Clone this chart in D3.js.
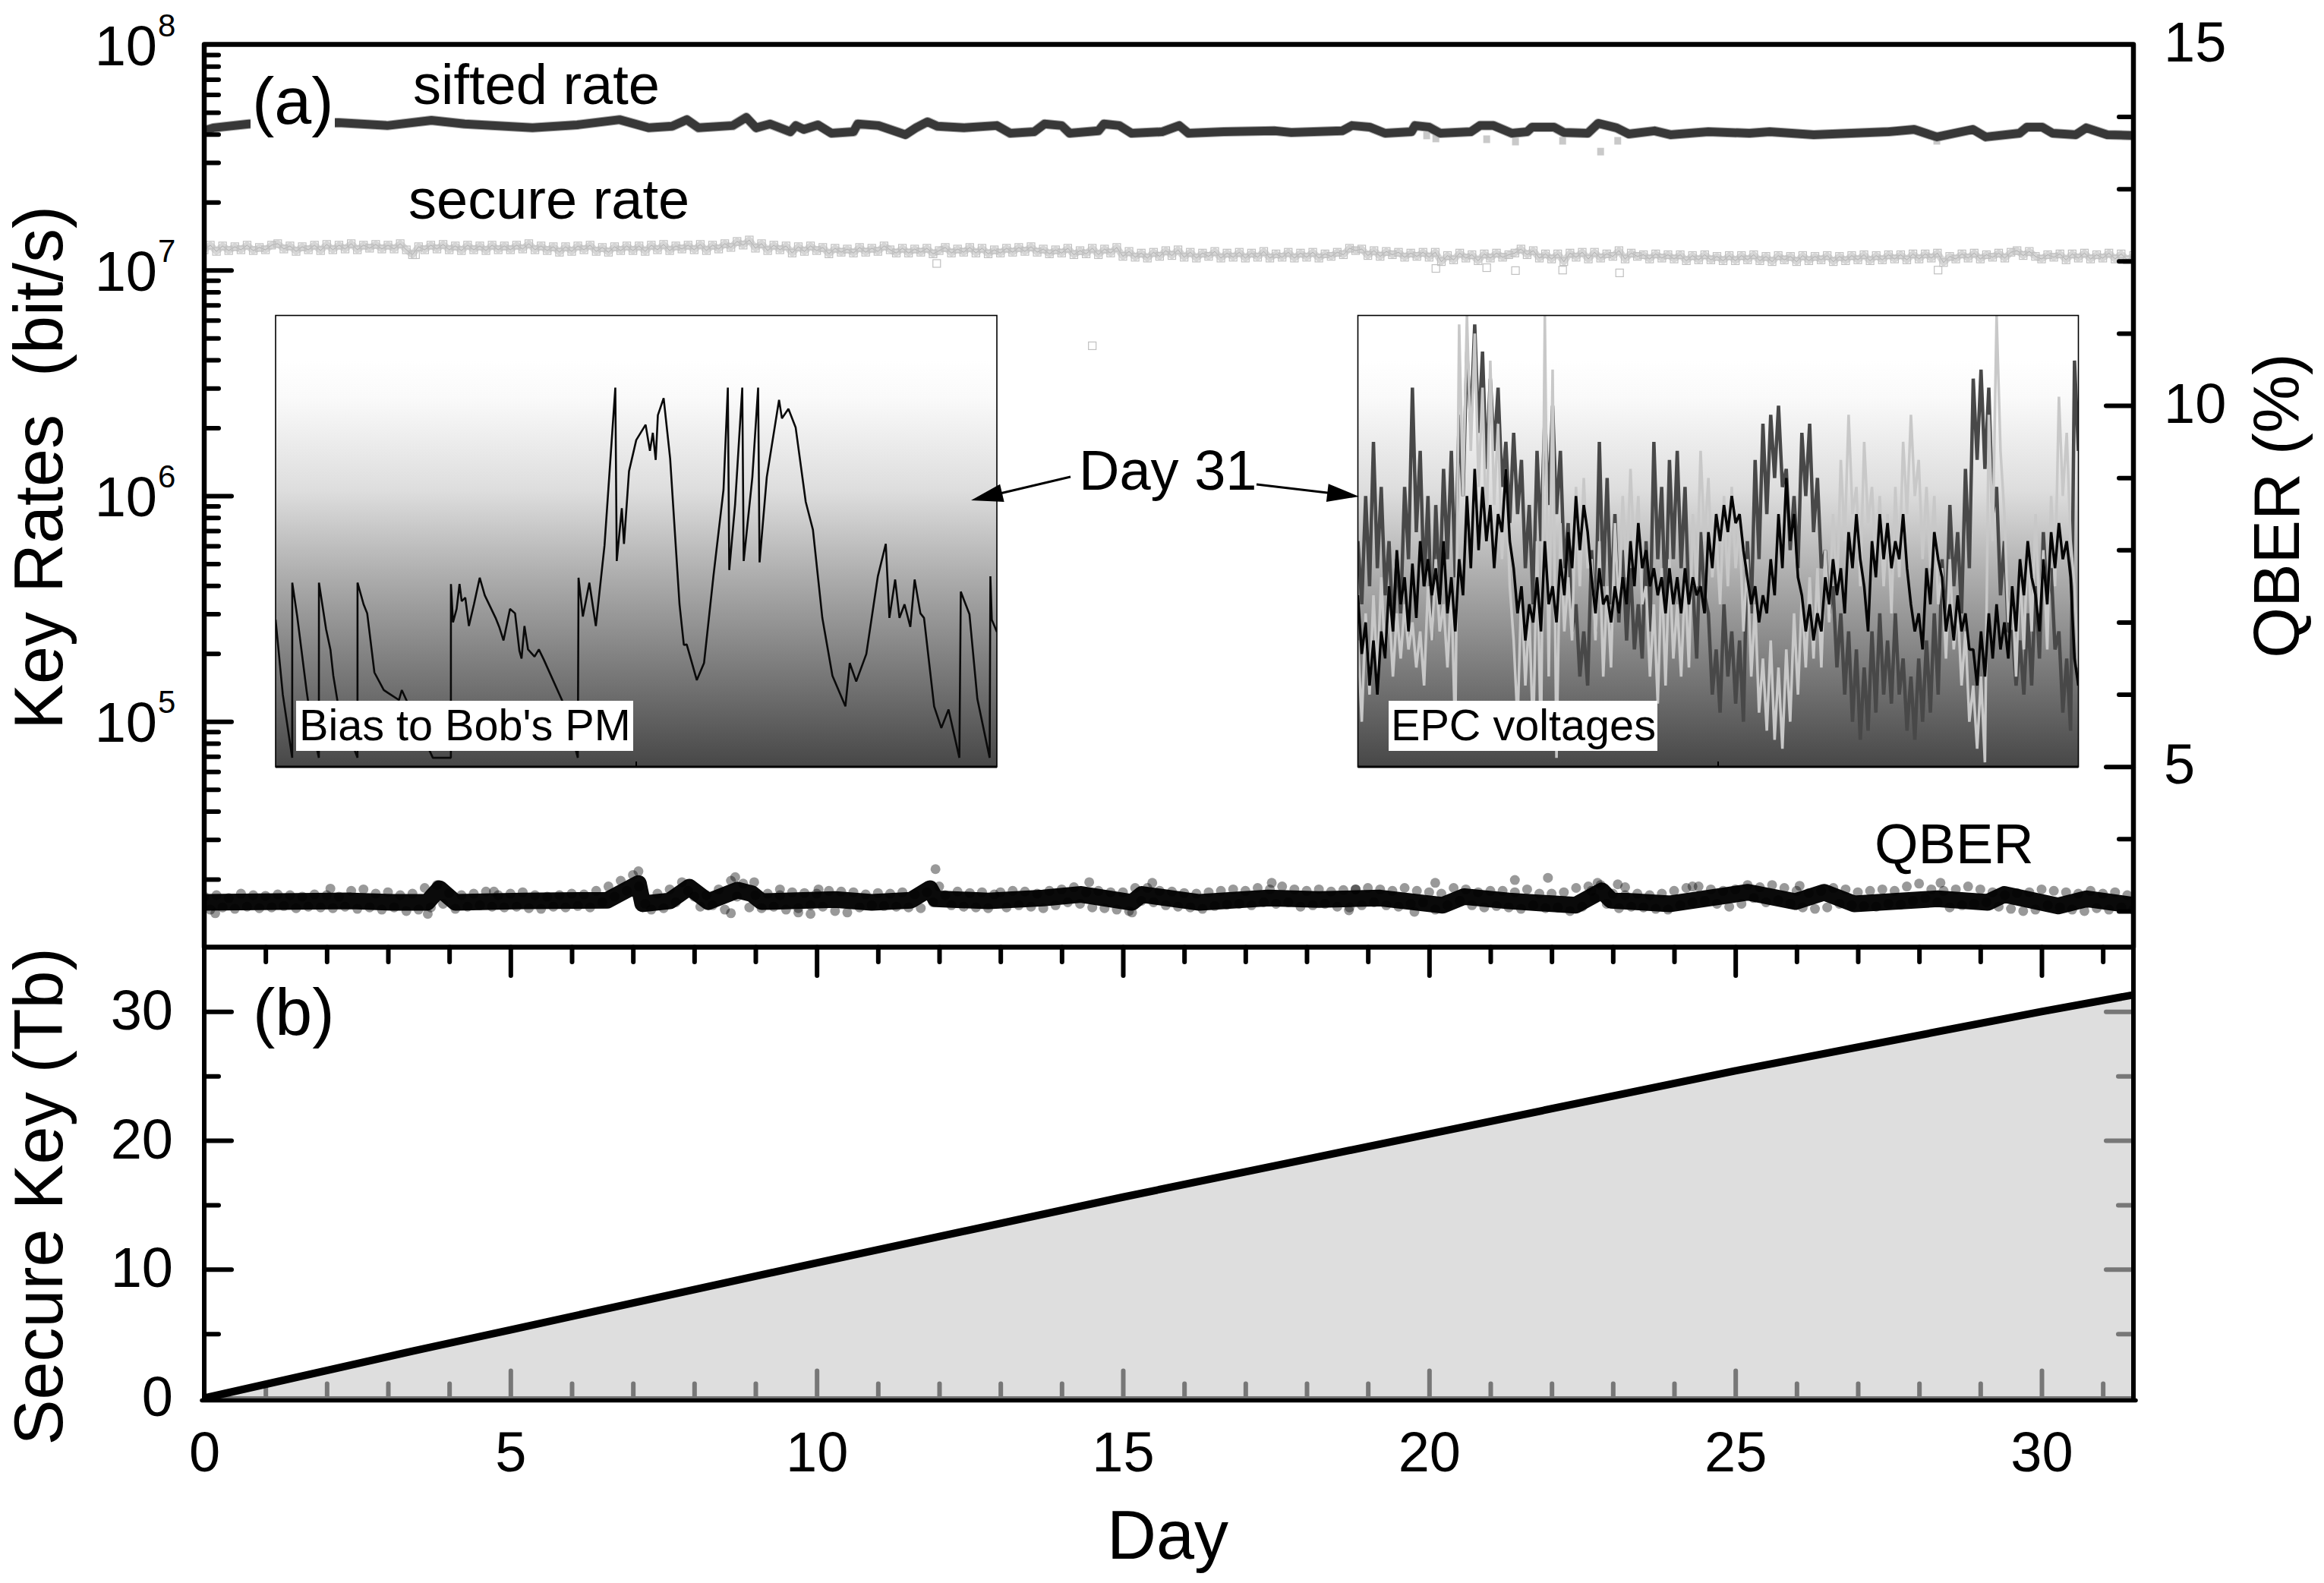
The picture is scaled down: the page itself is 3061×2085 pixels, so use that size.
<!DOCTYPE html>
<html><head><meta charset="utf-8">
<script src="https://cdn.jsdelivr.net/npm/d3@7/dist/d3.min.js"></script>
<style>html,body{margin:0;background:#fff}svg{display:block;font-family:"Liberation Sans",Arial,sans-serif}</style>
</head><body><svg id="c" width="3061" height="2085"></svg>
<script>
// ---- data ----
const siftedDay=[0,.15,.73,2.19,2.99,3.71,4.25,5.36,6.09,6.78,7.26,7.64,7.88,8.07,8.63,8.85,9.01,9.24,9.57,9.66,9.79,10.02,10.24,10.6,10.67,11.01,11.45,11.62,11.81,11.97,12.4,12.94,13.16,13.55,13.72,14,14.13,14.6,14.69,14.94,15.14,15.64,15.92,16.07,16.65,17.48,17.75,18.58,18.74,19.03,19.28,19.71,19.77,20,20.18,20.68,20.83,21.05,21.35,21.6,21.68,22.04,22.2,22.59,22.76,23.06,23.26,23.68,23.94,24.56,25.23,25.56,26.28,27.5,27.92,28.29,28.88,29.09,29.64,29.76,30.01,30.18,30.56,30.73,31.07,31.5];
const siftedMbps=[41.4,42.7,44.4,45,43.7,46.1,44.4,42.7,44,46.4,42.7,43.4,46.4,42.7,43.7,47.5,42.7,44.4,41,43.7,42,44,40.4,41,44.4,43.7,39.8,42.7,45.4,43.4,42.7,43.7,40.4,41,44.4,43.7,40.4,41.4,44.4,43.7,40.4,41,43.7,40.4,41,41.4,40.7,41.4,43.7,43,40.4,41,43.7,43,40.4,41,43.7,43.7,40.4,41,43,43,40.7,40.4,44.7,42.7,40.1,41.4,39.8,41,40.4,41,39.8,41,42,38.9,42,38.9,40.4,43,43,40.4,39.8,42.7,39.8,39.5];
const siftedOutDay=[19.96,20.11,20.94,21.41,22.18,22.8,23.08,28.29];
const siftedOutMbps=[39.5,38.3,38,37.1,37.4,33.5,37.4,37.4];
const secureStep=0.1;
const secureMbps=[
12.3,12.9,12.1,12.8,12.2,12.7,12.3,12.9,12.2,12.6,
12.3,12.9,13.1,12.4,12.8,12.1,12.7,12.3,12.9,12.2,
13.0,12.3,12.9,12.4,13.1,12.3,12.9,12.5,13.0,12.4,
12.9,12.4,13.1,12.3,11.7,12.7,12.3,12.9,12.4,13.0,
12.3,12.8,12.2,12.9,12.3,12.8,12.2,12.9,12.3,12.8,
12.3,12.9,12.4,13.1,12.3,12.8,12.2,12.7,12.0,12.7,
12.1,12.8,12.3,12.9,12.1,12.6,12.0,12.7,12.2,12.8,
12.2,12.8,12.1,12.9,12.3,13.0,12.2,12.8,12.4,12.9,
12.3,13.0,12.2,12.9,12.4,13.1,12.6,13.4,12.9,13.6,
12.5,13.1,12.2,12.9,12.3,12.8,11.9,12.7,12.1,12.8,
12.2,12.6,11.8,12.5,12.0,12.4,11.9,12.6,12.0,12.5,
12.1,12.8,12.3,11.9,12.5,11.9,12.4,12.0,12.5,11.8,
12.2,12.6,11.9,12.4,12.0,12.6,11.9,12.5,11.8,12.3,
11.9,12.5,12.0,12.6,12.1,12.7,12.0,12.4,11.8,12.3,
11.9,12.5,11.7,12.2,11.8,12.5,11.7,12.4,11.9,12.6,
11.5,12.1,11.4,11.9,11.3,12.0,11.5,12.2,11.6,12.3,
11.4,12.0,11.3,11.9,11.5,12.1,11.3,11.9,11.4,12.0,
11.3,11.9,11.4,12.1,11.3,11.8,11.4,12.0,11.3,11.9,
11.4,12.0,11.3,11.8,11.5,12.0,11.7,12.5,12.2,12.4,
11.6,12.2,11.5,12.1,11.7,12.0,11.4,11.9,11.5,12.0,
11.4,12.0,10.9,11.6,11.1,11.9,11.3,11.7,11.0,11.8,
11.3,11.9,11.4,11.7,11.9,12.4,11.7,12.2,11.3,11.8,
11.2,11.8,10.9,11.9,11.4,12.0,11.2,12.0,11.3,11.8,
11.5,12.2,11.2,11.9,11.5,11.7,11.2,11.8,11.3,11.7,
11.2,11.7,11.0,11.6,11.1,11.7,11.1,11.5,11.0,11.6,
11.0,11.6,11.1,11.7,11.0,11.5,10.9,11.6,11.1,11.5,
10.9,11.6,11.0,11.5,11.1,11.6,10.9,11.5,11.0,11.6,
11.1,11.7,11.0,11.6,11.1,11.7,11.2,11.7,11.1,11.8,
11.2,11.8,11.3,11.9,10.8,11.5,11.2,11.8,11.3,11.9,
11.2,11.7,11.4,11.9,11.3,12.0,12.2,11.6,12.1,11.5,
11.2,11.7,11.4,11.8,11.1,11.8,11.3,11.9,11.2,11.7,
11.3,11.9,11.2,11.8,11.1,11.6];
const secureOutDay=[20.11,20.94,21.41,22.18,23.11,11.96,28.31,3.45,22.82,14.5];
const secureOutMbps=[10.17,10.25,9.95,10.0,9.72,10.7,10.0,11.7,3.13,4.62];
const qberMeanDay=[0,1.2,2.4,3.1,3.64,3.84,4.1,5.2,6.58,7.09,7.16,7.6,7.92,8.23,8.71,8.94,9.1,10.3,10.9,11.54,11.85,11.94,12.8,13.7,14.32,15.15,15.31,16.25,17.37,18.2,19.2,20.22,20.57,21.3,22.39,22.82,22.97,23.94,25.21,25.98,26.45,26.94,28.3,29.12,29.39,30.27,30.74,31.5];
const qberMean=[3.12,3.13,3.14,3.12,3.12,3.31,3.12,3.14,3.15,3.38,3.10,3.14,3.33,3.13,3.29,3.24,3.13,3.16,3.12,3.15,3.31,3.17,3.14,3.18,3.23,3.12,3.23,3.12,3.18,3.16,3.18,3.08,3.20,3.14,3.08,3.28,3.15,3.10,3.26,3.13,3.26,3.10,3.17,3.12,3.23,3.07,3.17,3.08];
const qberStep=0.1;
const qberPct=[
3.20,3.02,3.22,3.05,3.18,3.03,3.24,3.06,3.22,3.04,
3.21,3.05,3.23,3.07,3.22,3.04,3.20,3.06,3.23,3.05,
3.22,3.04,3.20,3.06,3.28,3.03,3.30,3.05,3.24,3.02,
3.26,3.05,3.22,3.00,3.24,3.02,3.32,3.05,3.36,3.10,
3.25,3.03,3.22,3.06,3.24,3.08,3.27,3.06,3.22,3.05,
3.24,3.06,3.26,3.04,3.22,3.03,3.20,3.06,3.22,3.05,
3.24,3.07,3.23,3.05,3.28,3.12,3.34,3.20,3.42,3.28,
3.50,3.34,3.10,3.02,3.24,3.04,3.30,3.12,3.40,3.28,
3.20,3.06,3.22,3.08,3.30,3.02,3.42,3.20,3.38,3.05,
3.22,3.04,3.24,3.06,3.22,3.02,3.26,3.04,3.25,3.08,
3.24,3.06,3.28,3.00,3.27,2.98,3.26,3.05,3.23,3.08,
3.25,3.07,3.24,3.06,3.26,3.05,3.23,3.04,3.26,3.12,
3.34,3.22,3.08,3.27,3.06,3.25,3.05,3.26,3.04,3.23,
3.26,3.05,3.28,3.08,3.27,3.06,3.24,3.04,3.28,3.08,
3.30,3.12,3.33,3.10,3.26,3.05,3.28,3.04,3.26,3.02,
3.26,3.00,3.32,3.14,3.32,3.12,3.28,3.08,3.27,3.06,
3.25,3.05,3.24,3.03,3.26,3.07,3.28,3.09,3.30,3.10,
3.28,3.08,3.32,3.12,3.30,3.10,3.34,3.12,3.30,3.06,
3.28,3.08,3.30,3.10,3.27,3.06,3.29,3.05,3.30,3.08,
3.32,3.12,3.30,3.08,3.28,3.06,3.32,3.10,3.28,3.12,
3.26,3.02,3.24,3.08,3.32,3.14,3.30,3.08,3.26,3.05,
3.28,3.07,3.28,3.05,3.26,3.03,3.30,3.08,3.24,3.04,
3.24,3.05,3.26,3.00,3.32,3.06,3.34,3.18,3.36,3.10,
3.24,3.04,3.22,3.06,3.24,3.05,3.22,3.03,3.24,3.02,
3.28,3.08,3.32,3.12,3.34,3.14,3.30,3.10,3.28,3.06,
3.30,3.10,3.36,3.18,3.33,3.12,3.36,3.15,3.32,3.10,
3.28,3.05,3.25,3.03,3.28,3.05,3.32,3.10,3.30,3.08,
3.26,3.07,3.28,3.06,3.30,3.10,3.28,3.09,3.34,3.14,
3.38,3.18,3.30,3.12,3.28,3.05,3.30,3.08,3.34,3.10,
3.30,3.12,3.26,3.06,3.22,3.03,3.25,3.00,3.26,3.02,
3.30,3.08,3.28,3.05,3.26,3.02,3.24,3.00,3.28,3.04,
3.24,3.02,3.26,3.05,3.22,3.02];
const qberOutDay=[7.09,8.67,8.98,4.73,2.06,11.94,14.45,15.48,17.43,10.03,9.4,.18,3.65,8.6,9.7,9.9,15.15,18.8,19.76,20.1,21.4,21.94,22.75,23.08,23.2,22.65,18.69,28.35,24.3,26.05];
const qberOut=[3.55,3.47,3.40,3.27,3.31,3.58,3.40,3.39,3.39,3.30,3.30,2.97,2.96,2.97,2.98,2.96,2.98,3.30,2.99,3.39,3.43,3.46,3.39,3.37,3.33,3.28,3.01,3.39,3.34,3.35];
const keyDay=[0,3.4,5,10,15,20,25,30,31.5];
const keyTb=[0,3.65,5.3,10.5,15.6,20.5,25.4,30.0,31.3];
// inset traces: positions in percent of the unlabelled inset frame
const biasT=[0,1,2.3,2.31,3,4.3,5,6,6.01,7,7.6,8,8.7,11.35,11.36,12.2,12.7,13.7,15,17.1,17.5,21.8,24.3,24.31,24.6,25.1,25.5,25.8,26.3,26.8,27.5,28.3,29,30.5,31,31.6,32.5,33.2,33.8,34.1,34.5,35,35.9,36.5,37.2,39.9,41.9,42,42.6,43.5,44.4,45.6,47.1,47.3,48,48.3,49,50,51.3,51.9,52.3,52.7,53,53.8,54.7,56,56.6,57,58.4,59.4,60.7,62.1,62.7,62.9,63.7,64.7,64.9,66.1,66.9,67.1,68.1,69.8,70.2,71.1,72.1,73.5,74.5,75.8,77.2,79,79.6,80.5,81.9,83.5,84.6,85.1,85.9,86.5,87.2,88,88.6,89.4,89.9,91.3,92.3,93.3,94.8,95,96.2,97.3,99,99.1,99.3,100];
const biasV=[32.6,16,2,40.8,33.3,16.8,9,2,40.8,30.5,26,20.2,13.4,2,40.8,36,34,20.9,17,14.8,17,2,2,40.5,32,35,40.5,36.7,37.5,31.2,36,41.9,38,33,31,28,35,34,25.7,24,31.2,26,24.4,26,23.7,14.1,2,41.9,33.3,40.8,31.2,49,84,45.6,57.3,49.4,65.5,72.4,75.8,70,74,68,77.9,81.7,68.3,36,27,27.1,19.2,23,42.2,61.4,84,43.6,58,84,45.6,64.2,84,45.3,64.2,81.3,77.2,79.3,75.2,58.7,52.5,33,20.2,13.4,23,18.9,25,42.2,49.4,33,41.5,33,36,31,41.5,34,33,13.4,8.6,12.7,2,38.8,33.8,15,2,42.2,32.6,29.9];
const epcBlack=[38,25,32,18,28,16,30,24,40,30,48,36,42,30,45,33,50,40,46,38,44,36,50,34,42,30,46,38,60,44,66,48,62,50,58,44,56,52,66,50,44,34,40,28,36,32,42,30,50,36,40,32,46,38,52,44,60,48,58,52,42,34,44,36,38,32,40,34,42,36,50,40,54,44,48,40,44,38,42,34,44,36,42,34,44,36,42,38,40,34,52,44,56,50,58,52,60,54,56,48,42,36,40,32,38,34,46,38,56,44,64,50,56,42,38,30,36,28,34,30,42,36,46,38,44,34,52,44,56,46,40,30,50,42,56,46,54,44,50,46,56,44,36,30,34,26,44,36,52,46,42,30,36,28,38,30,34,26,26,18,30,20,34,24,36,26,32,24,40,30,46,38,50,42,38,30,46,36,52,44,54,46,50,42,24,18];
const epcDark=[50,36,60,40,72,44,62,38,50,30,46,34,62,46,84,52,70,40,60,28,58,38,66,46,70,42,78,60,92,76,98,74,92,66,86,70,84,62,72,54,74,56,68,44,58,36,70,50,78,58,80,56,70,44,54,30,36,20,30,18,48,30,72,40,64,36,56,32,48,28,44,26,36,24,50,30,72,46,62,34,68,46,70,44,62,36,40,24,52,38,34,16,26,12,36,20,30,14,28,10,50,34,68,46,76,56,78,64,80,62,66,48,60,44,74,60,76,52,64,44,48,34,40,22,34,16,30,10,26,6,22,8,30,12,34,16,28,14,34,16,24,8,20,6,24,10,28,12,34,16,46,30,58,40,52,34,66,44,86,68,88,66,84,56,62,38,50,30,30,18,28,16,34,18,40,24,52,36,44,26,30,12,24,8,90,70];
const epcLight=[28,10,34,16,38,20,42,24,36,20,34,24,36,26,32,22,30,18,40,28,46,30,36,22,40,6,98,60,100,70,96,62,84,50,90,58,76,46,66,40,28,10,40,18,34,6,50,4,100,20,88,2,54,30,42,28,62,40,64,44,46,28,50,20,40,22,54,34,60,42,66,46,60,36,40,20,36,14,44,18,46,24,36,20,42,22,56,40,70,50,64,42,52,36,60,40,62,44,54,30,46,20,36,12,24,8,28,6,22,4,26,10,34,16,38,22,42,24,44,22,48,32,56,38,68,50,78,56,62,40,72,54,62,44,60,40,56,34,62,42,72,56,78,60,68,46,62,44,60,36,44,24,46,26,36,18,30,10,18,4,20,1,78,50,100,70,56,32,40,20,44,26,50,30,56,34,48,26,60,40,82,60,74,50,40,22];
const dayLabels=[0,5,10,15,20,25,30];
const keyLabels=[0,10,20,30];
const qberLabels=[5,10,15];
const rateDecades=[1e5,1e6,1e7,1e8];

// ---- layout and scales ----
const L=269,R=2810,T=58.5,M=1247.5,B=1841.5;
const svg=d3.select("#c");
const x=d3.scaleLinear().domain([0,31.5]).range([L,R]);
const yRate=d3.scaleLog().domain([1e4,1e8]).range([M,T]);
const yQ=d3.scaleLinear().domain([2.5,15]).range([M,T]);
const yKey=d3.scaleLinear().domain([0,35]).range([B,M]);
const insetV=d3.scaleLinear().domain([0,100]);
const insetT=d3.scaleLinear().domain([0,100]);
const INK="#000";

// gradient
const grad=svg.append("defs").append("linearGradient").attr("id","g").attr("x1",0).attr("y1",0).attr("x2",0).attr("y2",1);
[[0,"#fff"],[.1,"#fff"],[.18,"#fafafa"],[.39,"#ddd"],[.59,"#aaa"],[.8,"#777"],[1,"#474747"]].forEach(s=>grad.append("stop").attr("offset",s[0]).attr("stop-color",s[1]));

function text(s,px,py,fs,anchor,rot){
  const t=svg.append("text").attr("font-size",fs).attr("text-anchor",anchor||"start").style("white-space","pre").text(s);
  t.attr("transform",`translate(${px},${py})`+(rot?` rotate(${rot})`:""));
  return t;
}
function ticks(axis,vals,size,y0,x0,col,w){
  const g=svg.append("g").attr("transform",`translate(${x0||0},${y0||0})`)
    .call(axis.tickValues(vals).tickSize(size).tickFormat(""));
  g.select(".domain").remove();
  g.selectAll("line").attr("stroke",col||INK).attr("stroke-width",w||6).attr("stroke-linecap","round");
  return g;
}

// panel b area and gray ticks under the line
const keyPts=keyDay.map((d,i)=>[d,keyTb[i]]);
svg.append("path").datum(keyPts).attr("fill","#dedede")
  .attr("d",d3.area().x(d=>x(d[0])).y0(B).y1(d=>yKey(d[1])));
const dayMinor=d3.range(1,32).filter(d=>d%5);
const GR="#777";
ticks(d3.axisTop(x),dayMinor,19,B,0,GR);
ticks(d3.axisTop(x),[5,10,15,20,25,30],36,B,0,GR);
ticks(d3.axisLeft(yKey),[5,15,25],17,0,R-3,GR);
ticks(d3.axisLeft(yKey),[10,20,30],33,0,R-3,GR);
svg.append("line").attr("x1",L).attr("x2",R).attr("y1",B-1).attr("y2",B-1).attr("stroke",GR).attr("stroke-width",3);
svg.append("path").datum(keyPts).attr("fill","none").attr("stroke",INK).attr("stroke-width",10)
  .attr("d",d3.line().x(d=>x(d[0])).y(d=>yKey(d[1])));

// clip so the data stays inside the frame
svg.select("defs").append("clipPath").attr("id","pa").append("rect").attr("x",L).attr("y",T).attr("width",R-L).attr("height",M-T);
const pa=svg.append("g").attr("clip-path","url(#pa)");

// sifted
const rateLine=d3.line().x(d=>x(d[0])).y(d=>yRate(d[1]*1e6));
const sift=siftedDay.map((d,i)=>[d,siftedMbps[i]]);
pa.selectAll(".so").data(siftedOutDay).join("rect").attr("x",d=>x(d)-4.5).attr("y",(d,i)=>yRate(siftedOutMbps[i]*1e6)-5).attr("width",9).attr("height",10).attr("fill","#c9c9c9");
pa.append("path").datum(sift).attr("fill","none").attr("stroke","#a8a8a8").attr("stroke-width",13).attr("stroke-linejoin","round").attr("d",rateLine);
pa.append("path").datum(sift).attr("fill","none").attr("stroke","#383838").attr("stroke-width",11).attr("stroke-linejoin","round").attr("d",rateLine);

// secure
const sec=secureMbps.map((v,i)=>[i*secureStep,v]);
const secAll=sec.concat(secureOutDay.map((d,i)=>[d,secureOutMbps[i]]));
pa.append("path").datum(sec).attr("fill","none").attr("stroke","#d6d6d6").attr("stroke-width",9).attr("stroke-linejoin","round").attr("d",rateLine);
pa.append("path").datum(sec).attr("fill","none").attr("stroke","#8c8c8c").attr("stroke-width",1).attr("opacity",.55).attr("d",rateLine);

// QBER
pa.append("path").datum(qberMeanDay.map((d,i)=>[d,qberMean[i]])).attr("fill","none").attr("stroke","#0a0a0a").attr("stroke-width",22).attr("stroke-linejoin","round")
  .attr("d",d3.line().x(d=>x(d[0])).y(d=>yQ(d[1])));
const qAll=qberPct.map((v,i)=>[i*qberStep,v]).concat(qberOutDay.map((d,i)=>[d,qberOut[i]]));
pa.selectAll(".q").data(qAll).join("circle").attr("cx",d=>x(d[0])).attr("cy",d=>yQ(d[1])).attr("r",6.5).attr("fill","#000").attr("opacity",.4);

// (a) label gap
svg.append("rect").attr("x",330).attr("y",85).attr("width",111).attr("height",90).attr("fill","#fff");

// insets
function inset(x0,x1,series,label,lx,lw,tx){
  const y0=415.5,y1=1010;
  const tS=insetT.copy().range([x0,x1]),vS=insetV.copy().range([y1,y0]);
  const id="c"+Math.round(x0);
  svg.select("defs").append("clipPath").attr("id",id).append("rect").attr("x",x0).attr("y",y0).attr("width",x1-x0).attr("height",y1-y0);
  svg.append("rect").attr("x",x0).attr("y",y0).attr("width",x1-x0).attr("height",y1-y0).attr("fill","url(#g)");
  const g=svg.append("g").attr("clip-path",`url(#${id})`);
  series.forEach(s=>{
    g.append("path").datum(s.pts).attr("fill","none").attr("stroke",s.col).attr("stroke-width",s.w).attr("stroke-linejoin","bevel")
      .attr("d",d3.line().x(d=>tS(d[0])).y(d=>vS(d[1])));
  });
  svg.append("rect").attr("x",x0).attr("y",y0).attr("width",x1-x0).attr("height",y1-y0).attr("fill","none").attr("stroke","#000").attr("stroke-width",1.6);
  svg.append("line").attr("x1",x0).attr("x2",x1).attr("y1",y1).attr("y2",y1).attr("stroke","#000").attr("stroke-width",3);
  svg.append("line").attr("x1",tS(50)).attr("x2",tS(50)).attr("y1",y1).attr("y2",y1-7).attr("stroke","#000").attr("stroke-width",2);
  svg.append("rect").attr("x",lx).attr("y",923).attr("width",lw).attr("height",66).attr("fill","#fff");
  text(label,tx,975,57.6);
}
inset(363,1313,[{pts:biasT.map((t,i)=>[t,biasV[i]]),col:"#0a0a0a",w:2.6}],"Bias to Bob's PM",390,444,394);
const epcT=(a)=>a.map((v,i)=>[i/(a.length-1)*100,v]);
inset(1788.5,2737.5,[
  {pts:epcT(epcDark),col:"#484848",w:4.5},
  {pts:epcT(epcLight),col:"#c8c8c8",w:3.5},
  {pts:epcT(epcBlack),col:"#050505",w:3.5}],"EPC voltages",1829,354,1832);

// secure squares above the insets
pa.selectAll(".s").data(secAll).join("rect").attr("x",d=>x(d[0])-5).attr("y",d=>yRate(d[1]*1e6)-5).attr("width",10).attr("height",10)
  .attr("fill","none").attr("stroke","#c0c0c0").attr("stroke-width",1.2);

// arrows
function arrow(x0,y0,x1,y1){
  const a=Math.atan2(y1-y0,x1-x0),l=42,h=12;
  svg.append("line").attr("x1",x0).attr("y1",y0).attr("x2",x1-Math.cos(a)*l*.8).attr("y2",y1-Math.sin(a)*l*.8).attr("stroke","#000").attr("stroke-width",3);
  const bx=x1-Math.cos(a)*l,by=y1-Math.sin(a)*l,nx=-Math.sin(a)*h,ny=Math.cos(a)*h;
  svg.append("path").attr("d",`M${x1},${y1}L${bx+nx},${by+ny}L${bx-nx},${by-ny}Z`).attr("fill","#000");
}
arrow(1410,628,1279,659);
arrow(1655,638,1790,654);

// frame
svg.append("rect").attr("x",L).attr("y",T).attr("width",R-L).attr("height",M-T).attr("fill","none").attr("stroke",INK).attr("stroke-width",6.5).attr("stroke-linejoin","round");
svg.append("line").attr("x1",L).attr("x2",L).attr("y1",M).attr("y2",B+3).attr("stroke",INK).attr("stroke-width",6);
svg.append("line").attr("x1",R).attr("x2",R).attr("y1",M).attr("y2",B+3).attr("stroke",INK).attr("stroke-width",6);
svg.append("line").attr("x1",L-3).attr("x2",R+3).attr("y1",B+3).attr("y2",B+3).attr("stroke",INK).attr("stroke-width",5.5).attr("stroke-linecap","round");

// black axis ticks
const rateMinor=yRate.ticks().filter(v=>![1e4,1e5,1e6,1e7,1e8].includes(v));
ticks(d3.axisRight(yRate),rateMinor,19,0,L);
ticks(d3.axisRight(yRate),[1e5,1e6,1e7],36,0,L);
ticks(d3.axisLeft(yQ),d3.range(3,15).filter(v=>v%5),19,0,R);
ticks(d3.axisLeft(yQ),[5,10],36,0,R);
ticks(d3.axisRight(yKey),[5,15,25],19,0,L);
ticks(d3.axisRight(yKey),keyLabels.slice(1),36,0,L);
ticks(d3.axisBottom(x),dayMinor,19.5,M);
ticks(d3.axisBottom(x),dayLabels.slice(1),37.5,M);

// tick labels
rateDecades.forEach(v=>{
  const y=yRate(v);
  text("10",207,y+27,74,"end");
  text(String(Math.round(Math.log10(v))),208,y-11,42);
});
function labelAxis(axis,vals,ty,tx,anchor,dyPx){
  const g=svg.append("g").attr("transform",`translate(${tx},${ty})`).call(axis.tickValues(vals).tickSize(0).tickPadding(0));
  g.select(".domain").remove();
  g.selectAll("line").remove();
  g.selectAll("text").attr("font-family","Liberation Sans").attr("font-size",74).attr("fill","#000").attr("text-anchor",anchor).attr("x",0).attr("y",dyPx).attr("dy",0);
  return g;
}
labelAxis(d3.axisBottom(x),dayLabels,1938,0,"middle",0);
labelAxis(d3.axisLeft(yKey),keyLabels,0,228,"end",23);
labelAxis(d3.axisRight(yQ),qberLabels,0,2850,"start",22);

// titles and annotations
text("Day",1538,2053,90,"middle");
text("Key Rates  (bit/s)",82,616,90,"middle",-90);
text("Secure Key (Tb)",82,1576,90,"middle",-90);
text("QBER (%)",3028,666,86,"middle",-90);
text("sifted rate",544,137,74);
text("secure rate",538,288,74);
text("QBER",2469,1137,74);
text("Day 31",1421,645,74);
text("(a)",332,163,88);
text("(b)",333,1363,88);
</script></body></html>
